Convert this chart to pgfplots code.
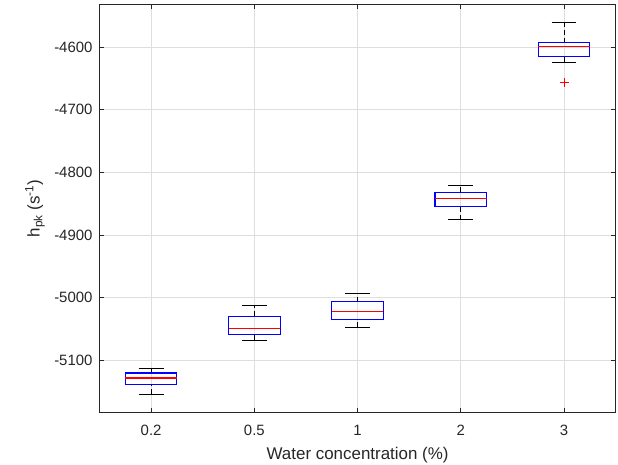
\documentclass[border=0pt]{standalone}
\usepackage{fontspec}
\setmainfont{Liberation Sans}
\usepackage{pgfplots}
\pgfplotsset{compat=1.18}
\definecolor{gridc}{RGB}{222,222,222}
\definecolor{axc}{RGB}{38,38,38}
\definecolor{bxblue}{RGB}{0,0,255}
\definecolor{mdred}{RGB}{255,0,0}
% #1 position, #2 lower whisker, #3 lower quartile, #4 median, #5 upper quartile, #6 upper whisker
\newcommand\bx[6]{%
  \addplot[black, line width=0.9bp, dash pattern=on 5bp off 3bp, mark=none] coordinates {(#1,#2) (#1,#3)};
  \addplot[black, line width=0.9bp, dash pattern=on 5bp off 3bp, mark=none] coordinates {(#1,#5) (#1,#6)};
  \addplot[black, line width=0.9bp, mark=none] coordinates {({#1-0.12},#2) ({#1+0.12},#2)};
  \addplot[black, line width=0.9bp, mark=none] coordinates {({#1-0.12},#6) ({#1+0.12},#6)};
  \addplot[draw=bxblue, line width=1.1bp, mark=none, line join=miter] coordinates {({#1-0.25},#3) ({#1+0.25},#3) ({#1+0.25},#5) ({#1-0.25},#5)} -- cycle;
  \addplot[draw=mdred, line width=1.1bp, mark=none] coordinates {({#1-0.25},#4) ({#1+0.25},#4)};
}
\begin{document}
\begin{tikzpicture}
\begin{axis}[
  scale only axis, width=516.2bp, height=408.7bp,
  xmin=0.5, xmax=5.5, ymin=-5183.6, ymax=-4531.4,
  xtick={1,2,3,4,5}, xticklabels={0.2,0.5,1,2,3},
  ytick={-5100,-5000,-4900,-4800,-4700,-4600},
  tick pos=both, xticklabel pos=lower, yticklabel pos=left,
  tick align=inside, major tick length=5bp,
  grid=major, major grid style={gridc,line width=0.7bp},
  axis line style={axc,line width=0.8bp},
  tick style={axc,line width=0.8bp},
  /pgf/number format/assume math mode=true,
  /pgf/number format/set thousands separator={},
  ticklabel style={font=\fontsize{15}{18}\selectfont, text=axc},
  xticklabel style={yshift=-9bp},
  yticklabel style={xshift=-3.5bp},
  xlabel={Water concentration (\%)},
  ylabel={h\textsubscript{pk} (s\textsuperscript{-1})},
  label style={font=\fontsize{17}{20}\selectfont, text=axc},
  xlabel style={at={(axis description cs:0.5,-0.083)}, anchor=north, inner sep=0pt},
  ylabel style={at={(axis description cs:-0.1056,0.5)}, anchor=south, inner sep=0pt},
]
\bx{1}{-5153.7}{-5138.3}{-5128.2}{-5120.3}{-5112.8}
\bx{2}{-5068.1}{-5058.5}{-5049.5}{-5029.7}{-5012.8}
\bx{3}{-5047.0}{-5034.4}{-5022.8}{-5006.4}{-4993.0}
\bx{4}{-4875.6}{-4854.2}{-4841.5}{-4831.9}{-4820.7}
\bx{5}{-4624.4}{-4615.4}{-4598.9}{-4593.1}{-4560.1}
\addplot[only marks, mark=+, mark size=4.5bp, mark options={draw=mdred,line width=0.9bp}] coordinates {(5,-4656.3)};
\end{axis}
\path ([shift={(-99.5bp,-52.3bp)}]current axis.south west) rectangle ([shift={(2.3bp,4bp)}]current axis.north east);
\end{tikzpicture}
\end{document}
